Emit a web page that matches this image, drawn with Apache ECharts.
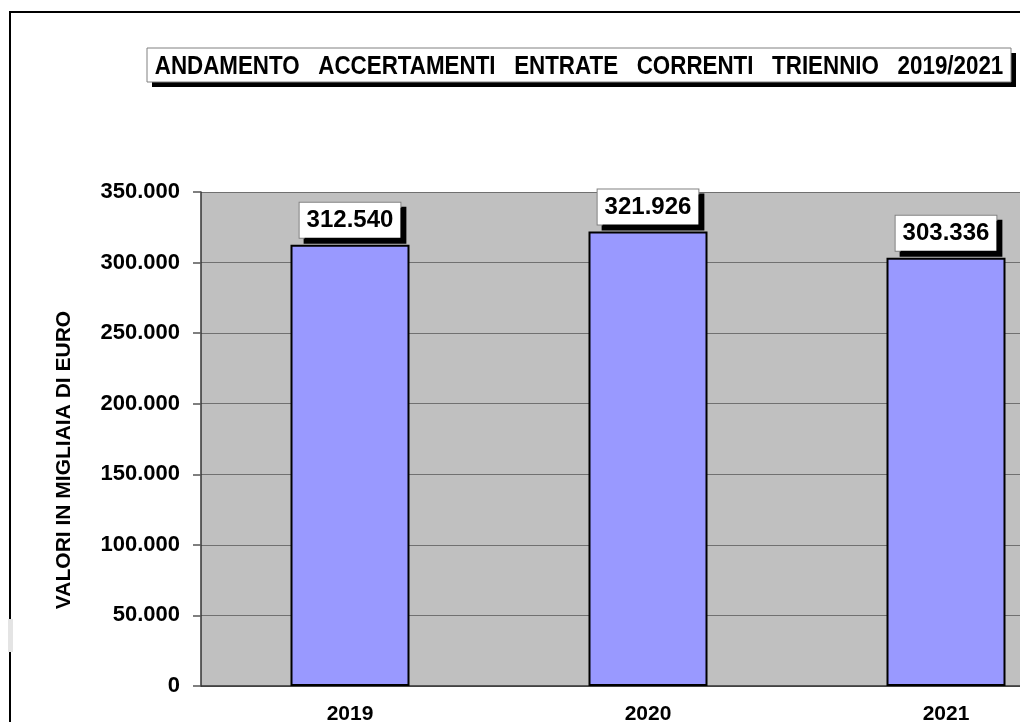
<!DOCTYPE html>
<html>
<head>
<meta charset="utf-8">
<script src="https://cdn.jsdelivr.net/npm/echarts@6/dist/echarts.min.js"></script>
<style>
  html, body { margin: 0; padding: 0; background: #fff; }
  #chart { width: 1020px; height: 722px; }
</style>
</head>
<body>
<div id="chart"></div>
<script>
var anni = ['2019', '2020', '2021'];
var accertamenti = [312540, 321926, 303336];
var yMin = 0, yMax = 350000, yStep = 50000;
var titolo = 'ANDAMENTO   ACCERTAMENTI   ENTRATE   CORRENTI   TRIENNIO   2019/2021';
var nomeAsse = 'VALORI IN MIGLIAIA DI EURO';

var font = 'Arial, "Liberation Sans", sans-serif';

// separatore migliaia con il punto
function fmt(v) {
  return String(Math.round(v)).replace(/\B(?=(\d{3})+(?!\d))/g, '.');
}

var chart = echarts.init(document.getElementById('chart'));
chart.setOption({
  backgroundColor: '#fff',
  animation: false,
  // l'area del grafico prosegue oltre il bordo destro della finestra
  grid: {
    left: 201, top: 192, right: -75, bottom: 36,
    outerBoundsMode: 'none', containLabel: false,
    show: true, backgroundColor: '#c0c0c0', borderWidth: 0
  },
  xAxis: {
    type: 'category',
    data: anni,
    axisLine: { lineStyle: { color: '#333', width: 1.5 } },
    axisTick: { length: 6, lineStyle: { color: '#555', width: 1.5 } },
    axisLabel: { margin: 18, color: '#000', fontWeight: 'bold', fontSize: 21, fontFamily: font }
  },
  yAxis: {
    type: 'value',
    min: yMin, max: yMax, interval: yStep,
    axisLine: { show: true, lineStyle: { color: '#333', width: 1.5 } },
    axisTick: { show: true, length: 8, lineStyle: { color: '#555', width: 1.5 } },
    axisLabel: { margin: 21, color: '#000', fontWeight: 'bold', fontSize: 22, fontFamily: font, formatter: fmt },
    splitLine: { lineStyle: { color: '#707070', width: 1 } }
  },
  series: [{
    type: 'bar',
    data: accertamenti,
    barWidth: 119,
    itemStyle: { color: '#9999ff', borderColor: '#000', borderWidth: 2 },
    label: {
      show: true,
      position: 'top',
      distance: 7,
      formatter: function (p) { return fmt(p.value); },
      color: '#000',
      fontWeight: 'bold',
      fontSize: 24,
      fontFamily: font,
      backgroundColor: '#fff',
      borderColor: '#808080',
      borderWidth: 1,
      padding: [6, 7, 5, 7],
      shadowColor: '#000',
      shadowBlur: 0,
      shadowOffsetX: 5,
      shadowOffsetY: 5
    }
  }],
  graphic: [
    // cornice esterna
    { type: 'rect', shape: { x: 10, y: 12, width: 1200, height: 1000 }, style: { fill: 'none', stroke: '#000', lineWidth: 2 }, z: 10 },
    { type: 'rect', shape: { x: 8, y: 619, width: 5, height: 33 }, style: { fill: '#e4e4e4' }, z: 11 },
    // riquadro del titolo
    { type: 'rect', shape: { x: 152, y: 53, width: 864, height: 34 }, style: { fill: '#000' }, z: 10 },
    { type: 'rect', shape: { x: 147, y: 48, width: 864, height: 34 }, style: { fill: '#fff', stroke: '#808080', lineWidth: 1 }, z: 11 },
    {
      // carattere stretto come nell'originale
      type: 'text', x: 579, y: 67, scaleX: 0.86, z: 12,
      style: { text: titolo, fill: '#000', font: 'bold 26px ' + font, textAlign: 'center', textVerticalAlign: 'middle' }
    },
    // titolo asse verticale
    {
      type: 'text', x: 64, y: 460, rotation: Math.PI / 2, z: 12,
      style: { text: nomeAsse, fill: '#000', font: 'bold 21px ' + font, textAlign: 'center', textVerticalAlign: 'middle' }
    }
  ]
});
</script>
</body>
</html>
